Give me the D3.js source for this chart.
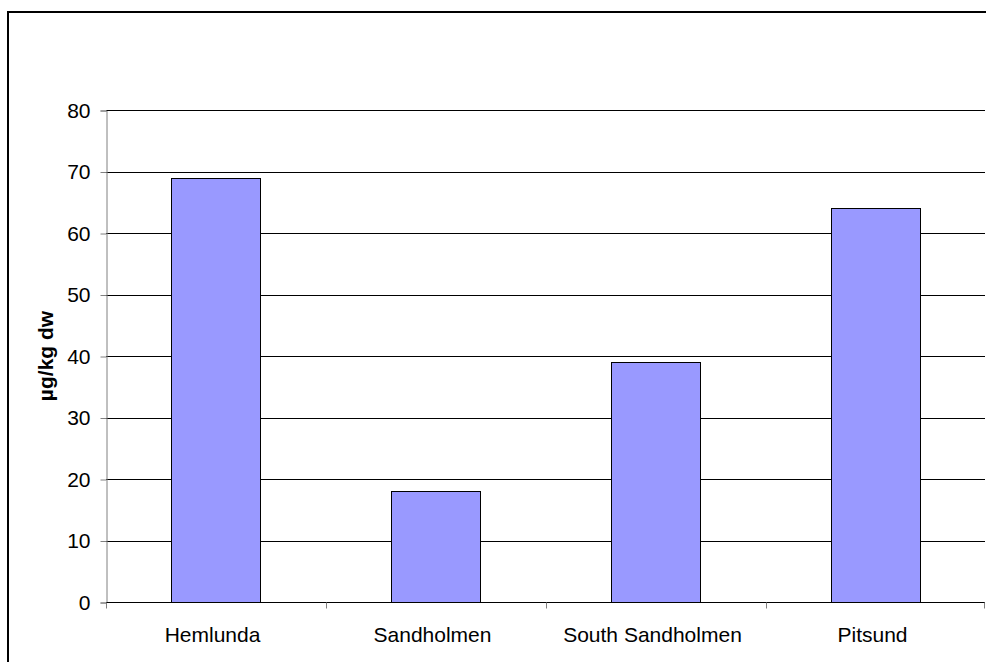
<!DOCTYPE html>
<html>
<head>
<meta charset="utf-8">
<script src="https://cdn.jsdelivr.net/npm/d3@7"></script>
<style>
  html, body { margin: 0; padding: 0; background: #fff; }
  svg { display: block; }
  text { font-family: "Liberation Sans", Arial, sans-serif; fill: #000; }
</style>
</head>
<body>
<script>
// Concentrations per site
const categories = ["Hemlunda", "Sandholmen", "South Sandholmen", "Pitsund"];
const values = [69, 18, 39, 64];
const yTicks = [0, 10, 20, 30, 40, 50, 60, 70, 80];
const yTitle = "µg/kg dw";

const W = 986, H = 662;
const plot = { left: 106, right: 986, top: 110, bottom: 602 };
const FONT = 21;

const svg = d3.select("body").append("svg")
  .attr("width", W).attr("height", H);

// Outer chart frame
svg.append("rect")
  .attr("x", 8).attr("y", 12)
  .attr("width", W + 10).attr("height", H + 10)
  .attr("fill", "#fff").attr("stroke", "#000").attr("stroke-width", 2);

const x = d3.scaleBand().domain(categories)
  .range([plot.left, plot.right]).paddingInner(0.595).paddingOuter(0.2975);
const xCat = d3.scaleBand().domain(categories).range([plot.left, plot.right]);
const y = d3.scaleLinear().domain([0, 80]).range([plot.bottom, plot.top]);

// Horizontal gridlines
svg.append("g").selectAll("line")
  .data(yTicks.filter(d => d > 0)).join("line")
  .attr("x1", plot.left).attr("x2", plot.right - 1)
  .attr("y1", d => Math.round(y(d)) + 0.5).attr("y2", d => Math.round(y(d)) + 0.5)
  .attr("stroke", "#000").attr("stroke-width", 1);

// Bars
svg.append("g").selectAll("rect")
  .data(values).join("rect")
  .attr("x", (d, i) => Math.round(x(categories[i])) + 0.5)
  .attr("y", d => Math.round(y(d)) + 0.5)
  .attr("width", Math.round(x.bandwidth()))
  .attr("height", d => Math.round(y(0)) - Math.round(y(d)))
  .attr("fill", "#9999FF").attr("stroke", "#000").attr("stroke-width", 1);

// Y axis
const yAxis = svg.append("g")
  .attr("transform", `translate(${plot.left + 0.5},0.5)`)
  .call(d3.axisLeft(y).tickValues(yTicks).tickSize(6).tickPadding(10));
yAxis.select(".domain").attr("stroke", "#808080");
yAxis.selectAll(".tick line").attr("stroke", "#808080");
yAxis.selectAll(".tick text")
  .attr("font-size", FONT).attr("font-family", "Liberation Sans, Arial, sans-serif");

// X axis
const xAxis = svg.append("g")
  .attr("transform", `translate(0,${Math.round(y(0)) + 0.5})`);
xAxis.append("line")
  .attr("x1", plot.left).attr("x2", plot.right - 1)
  .attr("stroke", "#000");
xAxis.selectAll("line.tick")
  .data(categories.map(c => xCat(c)).concat([plot.right - 2])).join("line")
  .attr("class", "tick")
  .attr("x1", d => Math.round(d) + 0.5).attr("x2", d => Math.round(d) + 0.5)
  .attr("y1", 0).attr("y2", 6)
  .attr("stroke", "#808080");
xAxis.selectAll("text")
  .data(categories).join("text")
  .attr("x", d => xCat(d) + xCat.bandwidth() / 2 - 3.5)
  .attr("y", 39)
  .attr("text-anchor", "middle")
  .attr("font-size", FONT)
  .text(d => d);

// Y axis title
svg.append("text")
  .attr("transform", `translate(53,${(plot.top + plot.bottom) / 2}) rotate(-90)`)
  .attr("text-anchor", "middle")
  .attr("font-size", FONT).attr("font-weight", "bold")
  .text(yTitle);
</script>
</body>
</html>
